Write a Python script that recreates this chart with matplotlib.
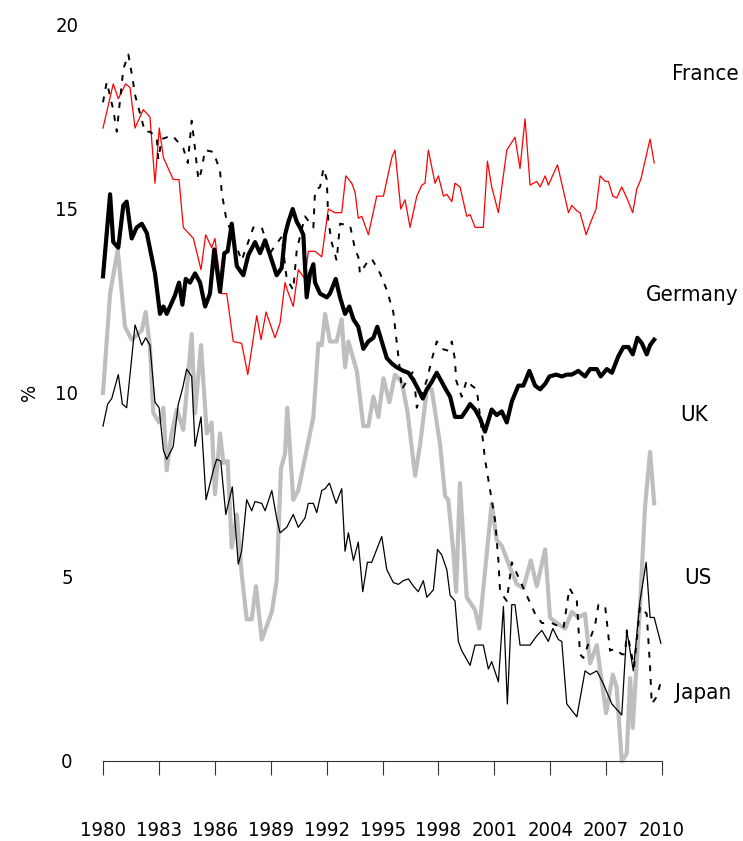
import matplotlib
matplotlib.use("Agg")
import matplotlib.pyplot as plt
import matplotlib.transforms as mtransforms
from matplotlib import font_manager as fm

# ---------------- data ----------------
france_years = [1980.00, 1980.55, 1980.82, 1981.22, 1981.45, 1981.72, 1982.16, 1982.52, 1982.79, 1983.02,
                1983.24, 1983.77, 1984.08, 1984.31, 1984.85, 1985.26, 1985.51, 1985.83, 1986.01, 1986.37,
                1986.64, 1986.99, 1987.44, 1987.77, 1988.25, 1988.48, 1988.75, 1989.23, 1989.50, 1989.77,
                1989.89, 1990.21, 1990.48, 1990.84, 1991.02, 1991.38, 1991.74, 1992.09, 1992.45, 1992.81,
                1993.03, 1993.35, 1993.53, 1993.70, 1993.89, 1994.24, 1994.69, 1995.05, 1995.50, 1995.67,
                1995.98, 1996.21, 1996.48, 1996.84, 1997.11, 1997.28, 1997.46, 1997.82, 1998.00, 1998.27,
                1998.45, 1998.72, 1998.89, 1999.16, 1999.52, 1999.70, 1999.97, 2000.41, 2000.63, 2000.86,
                2001.22, 2001.67, 2002.11, 2002.38, 2002.65, 2002.92, 2003.28, 2003.46, 2003.73, 2003.90,
                2004.39, 2004.98, 2005.16, 2005.43, 2005.60, 2005.93, 2006.14, 2006.46, 2006.68, 2006.95,
                2007.12, 2007.36, 2007.57, 2007.84, 2008.11, 2008.43, 2008.65, 2008.86, 2009.36, 2009.58]
france = [17.2, 18.4, 18.0, 18.4, 18.3, 17.2, 17.7, 17.5, 15.7, 17.2,
          16.4, 15.8, 15.8, 14.5, 14.2, 13.35, 14.3, 13.95, 14.2, 12.7,
          12.7, 11.4, 11.35, 10.5, 12.1, 11.45, 12.2, 11.5, 11.9, 13.0,
          12.8, 12.35, 13.35, 13.1, 13.85, 13.85, 13.7, 15.0, 14.9, 14.9,
          15.9, 15.7, 15.45, 14.75, 14.8, 14.3, 15.35, 15.35, 16.4, 16.6,
          15.0, 15.25, 14.5, 15.35, 15.65, 15.7, 16.6, 15.7, 15.9, 15.35,
          15.4, 15.2, 15.7, 15.6, 14.8, 14.85, 14.5, 14.5, 16.3, 15.6,
          14.9, 16.6, 16.95, 16.1, 17.45, 15.65, 15.75, 15.6, 15.9, 15.65,
          16.2, 14.9, 15.1, 14.95, 14.9, 14.3, 14.6, 15.0, 15.9, 15.75,
          15.75, 15.35, 15.3, 15.6, 15.3, 14.9, 15.55, 15.8, 16.9, 16.25]

germany_years = [1980.00, 1980.38, 1980.55, 1980.82, 1981.09, 1981.27, 1981.54, 1981.81, 1982.08, 1982.35,
                 1982.79, 1983.06, 1983.24, 1983.42, 1983.86, 1984.08, 1984.26, 1984.44, 1984.67, 1984.94,
                 1985.21, 1985.48, 1985.74, 1985.97, 1986.28, 1986.51, 1986.69, 1986.91, 1987.18, 1987.53,
                 1987.80, 1988.16, 1988.43, 1988.70, 1989.06, 1989.32, 1989.59, 1989.77, 1989.95, 1990.18,
                 1990.40, 1990.57, 1990.75, 1990.93, 1991.11, 1991.29, 1991.38, 1991.65, 1992.01, 1992.18,
                 1992.49, 1992.72, 1992.99, 1993.22, 1993.44, 1993.70, 1993.97, 1994.24, 1994.51, 1994.72,
                 1994.96, 1995.23, 1995.50, 1995.76, 1996.12, 1996.39, 1996.66, 1996.92, 1997.16, 1997.38,
                 1997.64, 1997.91, 1998.18, 1998.45, 1998.63, 1998.89, 1999.25, 1999.52, 1999.70, 1999.97,
                 2000.24, 2000.50, 2000.68, 2000.86, 2001.13, 2001.40, 2001.67, 2001.94, 2002.29, 2002.56,
                 2002.88, 2003.19, 2003.46, 2003.73, 2003.96, 2004.32, 2004.62, 2004.89, 2005.16, 2005.51,
                 2005.87, 2006.14, 2006.50, 2006.71, 2007.04, 2007.31, 2007.66, 2007.93, 2008.20, 2008.43,
                 2008.68, 2008.92, 2009.18, 2009.36, 2009.58]
germany = [13.17, 15.4, 14.1, 13.95, 15.1, 15.2, 14.2, 14.5, 14.6, 14.35,
           13.25, 12.15, 12.35, 12.15, 12.65, 13.0, 12.4, 13.1, 13.0, 13.25,
           13.0, 12.35, 12.7, 13.9, 12.75, 13.8, 13.85, 14.6, 13.45, 13.2,
           13.75, 14.1, 13.8, 14.15, 13.6, 13.2, 13.4, 14.3, 14.65, 15.0,
           14.65, 14.5, 14.3, 12.6, 13.25, 13.5, 13.0, 12.7, 12.6, 12.7,
           13.1, 12.6, 12.15, 12.35, 12.0, 11.8, 11.2, 11.4, 11.5, 11.8,
           11.4, 10.95, 10.8, 10.7, 10.6, 10.55, 10.35, 10.1, 9.85, 10.1,
           10.3, 10.55, 10.3, 10.05, 9.9, 9.35, 9.35, 9.55, 9.7, 9.55,
           9.3, 8.95, 9.25, 9.55, 9.4, 9.5, 9.2, 9.77, 10.2, 10.2,
           10.6, 10.2, 10.1, 10.25, 10.45, 10.5, 10.45, 10.5, 10.5, 10.6,
           10.45, 10.65, 10.65, 10.45, 10.65, 10.55, 11.0, 11.25, 11.25, 11.05,
           11.5, 11.35, 11.05, 11.3, 11.45]

uk_years = [1980.00, 1980.38, 1980.79, 1981.18, 1981.54, 1982.08, 1982.29, 1982.52, 1982.70, 1983.01,
            1983.24, 1983.42, 1983.65, 1983.96, 1984.31, 1984.76, 1984.94, 1985.26, 1985.57, 1985.83,
            1986.01, 1986.28, 1986.46, 1986.69, 1986.91, 1987.18, 1987.44, 1987.71, 1987.98, 1988.21,
            1988.52, 1989.06, 1989.32, 1989.55, 1989.77, 1989.89, 1990.21, 1990.48, 1991.29, 1991.56,
            1991.74, 1991.92, 1992.18, 1992.54, 1992.81, 1992.99, 1993.17, 1993.62, 1993.97, 1994.24,
            1994.51, 1994.78, 1995.05, 1995.37, 1995.67, 1996.03, 1996.34, 1996.75, 1997.02, 1997.38,
            1997.64, 1998.09, 1998.36, 1998.53, 1998.80, 1998.95, 1999.16, 1999.52, 1999.97, 2000.20,
            2000.86, 2001.13, 2001.40, 2001.85, 2002.21, 2002.56, 2002.96, 2003.28, 2003.73, 2003.99,
            2004.35, 2004.80, 2005.16, 2005.51, 2005.87, 2006.14, 2006.50, 2007.00, 2007.36, 2007.57,
            2007.84, 2008.11, 2008.29, 2008.43, 2008.82, 2009.09, 2009.36, 2009.58]
uk = [10.0, 12.7, 13.9, 11.8, 11.45, 11.7, 12.2, 11.25, 9.45, 9.2,
      9.6, 7.9, 8.8, 9.55, 9.0, 11.6, 9.45, 11.3, 8.9, 9.2,
      7.25, 8.9, 8.1, 8.15, 5.8, 6.7, 5.1, 3.85, 3.85, 4.75,
      3.3, 4.05, 4.9, 7.95, 8.35, 9.6, 7.1, 7.35, 9.35, 11.35,
      11.3, 12.15, 11.4, 11.4, 12.0, 10.7, 11.4, 10.6, 9.1, 9.1,
      9.9, 9.35, 10.4, 9.75, 10.5, 10.3, 9.5, 7.75, 8.6, 10.1,
      10.1, 8.6, 7.2, 7.1, 5.7, 4.6, 7.55, 4.45, 4.1, 3.6,
      7.0, 6.0, 5.85, 5.25, 4.8, 4.7, 5.45, 4.75, 5.75, 3.9,
      3.75, 3.6, 4.05, 3.9, 4.0, 2.65, 3.15, 1.3, 2.35, 2.0,
      0.0, 0.2, 2.25, 0.9, 4.2, 6.9, 8.4, 7.0]

us_years = [1980.00, 1980.25, 1980.47, 1980.82, 1981.04, 1981.27, 1981.72, 1982.08, 1982.29, 1982.52,
            1982.79, 1983.01, 1983.24, 1983.42, 1983.77, 1984.04, 1984.26, 1984.49, 1984.76, 1984.94,
            1985.26, 1985.53, 1985.92, 1986.10, 1986.32, 1986.59, 1986.94, 1987.26, 1987.44, 1987.71,
            1987.98, 1988.16, 1988.52, 1988.70, 1989.06, 1989.32, 1989.50, 1989.86, 1990.21, 1990.48,
            1990.84, 1991.02, 1991.29, 1991.47, 1991.74, 1991.92, 1992.15, 1992.51, 1992.81, 1992.99,
            1993.17, 1993.44, 1993.70, 1993.94, 1994.19, 1994.42, 1994.96, 1995.23, 1995.58, 1995.85,
            1996.12, 1996.39, 1996.66, 1996.92, 1997.19, 1997.38, 1997.73, 1997.95, 1998.18, 1998.45,
            1998.63, 1998.89, 1999.07, 1999.25, 1999.70, 1999.97, 2000.41, 2000.68, 2000.86, 2001.22,
            2001.49, 2001.70, 2001.94, 2002.11, 2002.38, 2002.92, 2003.28, 2003.55, 2003.90, 2004.14,
            2004.44, 2004.62, 2004.89, 2005.43, 2005.87, 2006.14, 2006.50, 2006.85, 2007.31, 2007.84,
            2008.11, 2008.46, 2008.82, 2009.15, 2009.36, 2009.58, 2009.94]
us = [9.1, 9.7, 9.85, 10.5, 9.7, 9.6, 11.85, 11.3, 11.5, 11.3,
      9.75, 9.6, 8.45, 8.2, 8.55, 9.7, 10.1, 10.65, 10.45, 8.55,
      9.35, 7.1, 7.9, 8.2, 8.15, 6.7, 7.45, 5.35, 5.7, 7.1,
      6.8, 7.05, 7.0, 6.8, 7.35, 6.6, 6.2, 6.35, 6.7, 6.35,
      6.6, 7.0, 7.0, 6.75, 7.35, 7.4, 7.55, 7.0, 7.4, 5.7,
      6.2, 5.45, 5.95, 4.6, 5.4, 5.4, 6.1, 5.2, 4.85, 4.8,
      4.9, 4.95, 4.75, 4.6, 4.9, 4.45, 4.65, 5.75, 5.6, 5.2,
      4.5, 4.35, 3.25, 3.0, 2.6, 3.15, 3.15, 2.5, 2.7, 2.15,
      4.2, 1.55, 4.25, 4.25, 3.15, 3.15, 3.4, 3.55, 3.25, 3.6,
      3.3, 3.25, 1.55, 1.2, 2.45, 2.35, 2.45, 2.1, 1.55, 1.25,
      3.55, 2.45, 4.35, 5.4, 3.9, 3.9, 3.2]

japan_years = [1980.00, 1980.20, 1980.55, 1980.74, 1980.86, 1981.09, 1981.36, 1981.57, 1981.72, 1982.25,
               1982.52, 1982.88, 1982.97, 1983.15, 1983.72, 1984.31, 1984.55, 1984.76, 1984.90, 1985.12,
               1985.26, 1985.48, 1985.92, 1986.28, 1986.37, 1986.59, 1986.82, 1987.44, 1988.07, 1988.52,
               1988.96, 1989.59, 1989.86, 1990.21, 1990.40, 1990.84, 1991.29, 1991.38, 1991.65, 1991.83,
               1992.01, 1992.09, 1992.27, 1992.54, 1992.72, 1993.26, 1993.53, 1993.70, 1993.79, 1994.24,
               1994.42, 1994.87, 1995.23, 1995.58, 1995.76, 1995.94, 1996.03, 1996.66, 1996.84, 1997.38,
               1997.64, 1997.91, 1998.18, 1998.53, 1998.72, 1998.89, 1998.95, 1999.25, 1999.52, 1999.79,
               2000.06, 2000.38, 2000.50, 2000.86, 2001.04, 2001.22, 2001.31, 2001.67, 2001.94, 2002.38,
               2002.83, 2003.19, 2003.55, 2004.08, 2004.71, 2005.03, 2005.43, 2005.60, 2005.78, 2006.41,
               2006.59, 2006.95, 2007.21, 2007.48, 2007.84, 2008.02, 2008.11, 2008.50, 2008.82, 2009.18,
               2009.36, 2009.45, 2009.72, 2009.99]
japan = [17.9, 18.45, 17.7, 17.1, 17.7, 18.8, 19.2, 18.6, 18.1, 17.1,
         17.1, 16.95, 16.35, 16.9, 17.0, 16.65, 16.25, 17.4, 16.8, 15.8,
         16.0, 16.6, 16.55, 16.05, 15.45, 14.8, 14.45, 13.6, 14.5, 14.5,
         13.8, 14.25, 13.1, 12.8, 13.9, 14.8, 14.5, 15.5, 15.6, 16.1,
         15.8, 14.7, 14.1, 13.6, 14.6, 14.55, 13.9, 13.7, 13.25, 13.6,
         13.65, 13.25, 12.8, 12.2, 11.4, 10.6, 10.1, 10.6, 9.6, 10.35,
         10.9, 11.4, 11.2, 11.15, 11.4, 10.9, 10.35, 9.9, 10.35, 10.2,
         10.1, 8.75, 8.2, 7.1, 6.55, 5.45, 4.6, 4.35, 5.4, 4.9,
         4.4, 4.0, 3.75, 3.75, 3.6, 4.7, 4.35, 2.9, 2.8, 3.7,
         4.25, 4.2, 3.0, 3.05, 2.9, 2.9, 3.55, 2.55, 4.2, 4.0,
         2.55, 1.55, 1.75, 2.25]

year_ticks = [1980, 1983, 1986, 1989, 1992, 1995, 1998, 2001, 2004, 2007, 2010]
pct_ticks = [0, 5, 10, 15, 20]
series_names = ["France", "Germany", "UK", "US", "Japan"]
label_values = [18.66, 12.67, 9.4, 4.96, 1.85]


# ---------------- font: prefer a narrow sans if one is installed ----------------
def pick_font():
    for fam, stretch in [("Liberation Sans Narrow", "condensed"), ("Liberation Sans Narrow", "normal"),
                         ("DejaVu Sans", "condensed"), ("Noto Sans", "condensed"),
                         ("Open Sans", "condensed"), ("Roboto", "condensed")]:
        try:
            path = fm.findfont(fm.FontProperties(family=fam, stretch=stretch),
                               fallback_to_default=False)
        except Exception:
            continue
        low = path.lower()
        if "narrow" in low or "condensed" in low:
            return fm.FontProperties(fname=path), 14.5, 16.0
    return fm.FontProperties(family=["Liberation Sans", "DejaVu Sans"]), 13.0, 14.5


fprop, tick_size, label_size = pick_font()


def fp(size):
    p = fprop.copy()
    p.set_size(size)
    return p


# ---------------- drawing ----------------
W, H = 743, 841
fig = plt.figure(figsize=(W / 100, H / 100), dpi=100)

ax = fig.add_axes([103 / W, (H - 761) / H, 559 / W, (761 - 25) / H])
ax.set_xlim(1980, 2010)
ax.set_ylim(0, 20)

ax.plot(uk_years, uk, color="#BEBEBE", lw=3.0, solid_joinstyle="round", clip_on=False, zorder=2)
ax.plot(france_years, france, color="#FF0000", lw=0.9, clip_on=False, zorder=3)
ax.plot(us_years, us, color="black", lw=0.9, clip_on=False, zorder=4)
ax.plot(japan_years, japan, color="black", lw=1.4, linestyle=(0, (3, 4)), clip_on=False, zorder=4)
ax.plot(germany_years, germany, color="black", lw=3.0, solid_joinstyle="round", clip_on=False, zorder=5)

for s in ["top", "right", "left"]:
    ax.spines[s].set_visible(False)
ax.spines["bottom"].set_bounds(1980, 2010)
ax.spines["bottom"].set_linewidth(0.8)
ax.spines["bottom"].set_color("#333333")

ax.set_xticks(year_ticks)
ax.set_xticklabels([str(y) for y in year_ticks])
ax.tick_params(axis="x", direction="out", length=10, width=0.8, color="#333333", pad=33)
for t in ax.get_xticklabels():
    t.set_fontproperties(fp(tick_size))
ax.set_yticks(pct_ticks)
ax.set_yticklabels([str(v) for v in pct_ticks])
ax.tick_params(axis="y", length=0, pad=26)
for t in ax.get_yticklabels():
    t.set_fontproperties(fp(tick_size))
    t.set_horizontalalignment("center")

fig.text(30 / W, 1 - 392 / H, "%", rotation=90, ha="center", va="center", fontproperties=fp(tick_size))

label_x = [705, 692, 694, 698, 703]
trans = mtransforms.blended_transform_factory(fig.transFigure, ax.transData)
for name, v, lx in zip(series_names, label_values, label_x):
    ax.text(lx / W, v, name, transform=trans, ha="center", va="center",
            fontproperties=fp(label_size), clip_on=False)

fig.savefig("out.png", dpi=100)
